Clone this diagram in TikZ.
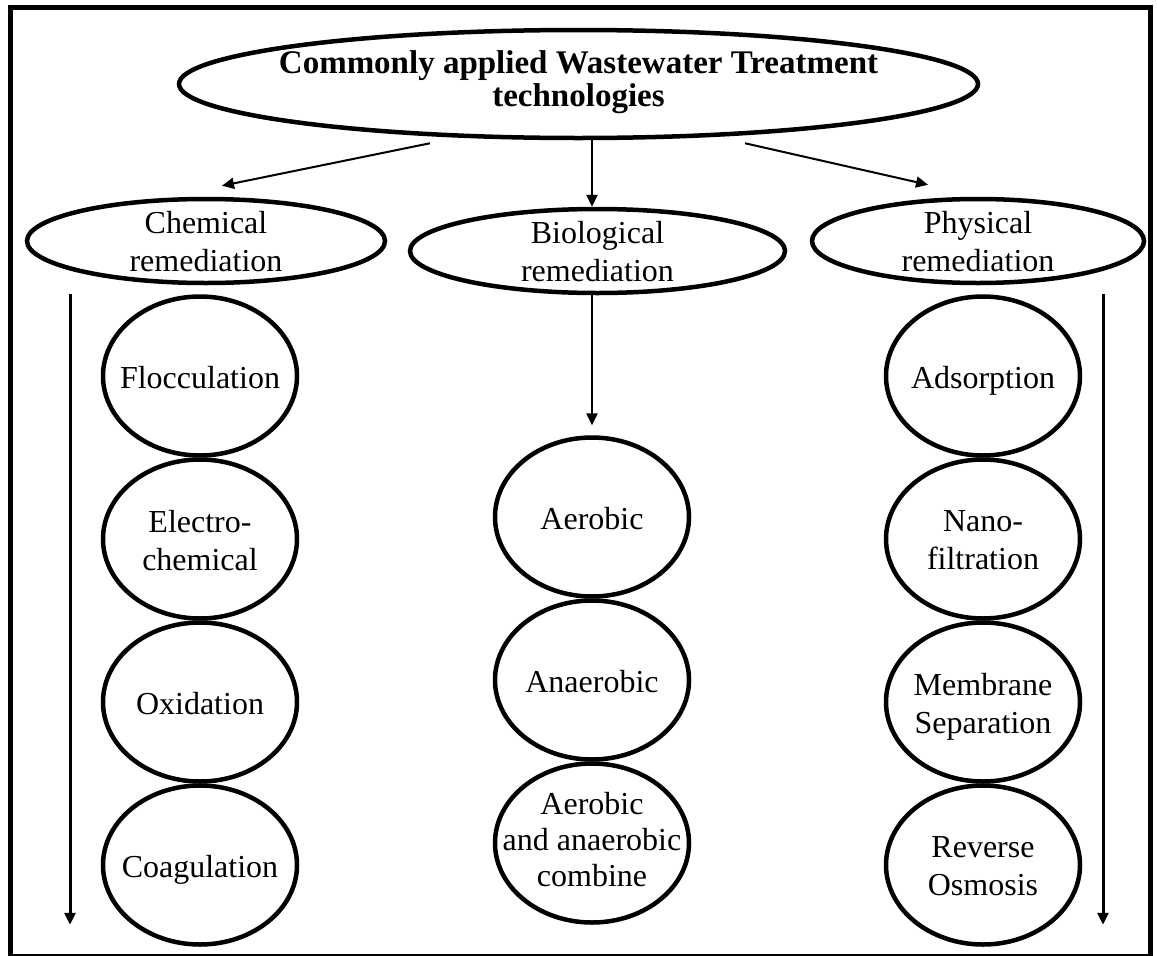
\documentclass[tikz,border=0pt]{standalone}
\usepackage{fontspec}
\setmainfont{Liberation Serif}
\usetikzlibrary{shapes.geometric,arrows.meta,calc}
\begin{document}
\begin{tikzpicture}[x=1pt,y=-1pt,
  oval/.style={draw=black,ellipse,line width=4.5pt,inner sep=0pt,fill=white},
  circ/.style={oval,minimum width=194pt,minimum height=159pt},
  txt/.style={inner sep=0pt,align=center,text depth=0pt,font=\fontsize{32}{38}\selectfont},
  ttl/.style={inner sep=0pt,align=center,text depth=0pt,font=\fontsize{33}{33}\selectfont\bfseries},
  arr/.style={line width=2pt,-{Triangle[width=11pt,length=12pt]}},
  varr/.style={line width=2.5pt,-{Triangle[width=11pt,length=12pt]}},
  sarr/.style={line width=3pt,-{Triangle[width=11pt,length=12pt]}}
]
\useasboundingbox (0,0) rectangle (1157,956);
% frame
\draw[line width=5pt,line cap=rect] (10.5,955) -- (10.5,7.5) -- (1150.5,7.5) -- (1150.5,955);
\draw[line width=2pt] (8,955) -- (1153,955);

% top
\node[oval,minimum width=799pt,minimum height=108pt] (main) at (578.5,84) {};
\node[ttl] (mainT) at (578.5,79) {Commonly applied Wastewater Treatment\\technologies};

% categories
\node[oval,minimum width=358pt,minimum height=84pt] (chem) at (206,241) {};
\node[txt] (chemT) at (chem) {Chemical\\remediation};
\node[oval,minimum width=375pt,minimum height=84pt] (bio) at (597.5,251) {};
\node[txt] (bioT) at (bio) {Biological\\remediation};
\node[oval,minimum width=332pt,minimum height=84pt] (phy) at (978,241) {};
\node[txt] (phyT) at (phy) {Physical\\remediation};

% chemical column
\node[circ] (floc) at (200,376) {};
\node[txt] (flocT) at ($(floc)+(0,1.5)$) {Flocculation};
\node[circ] (elec) at (200,539) {};
\node[txt] (elecT) at ($(elec)+(0,1)$) {Electro-\\chemical};
\node[circ] (oxid) at (200,702) {};
\node[txt] (oxidT) at ($(oxid)+(0,1.5)$) {Oxidation};
\node[circ] (coag) at (200,865) {};
\node[txt] (coagT) at ($(coag)+(0,1.5)$) {Coagulation};

% biological column
\node[circ] (aer) at (592,517) {};
\node[txt] (aerT) at ($(aer)+(0,1.5)$) {Aerobic};
\node[circ] (anaer) at (592,680) {};
\node[txt] (anaerT) at ($(anaer)+(0,1.5)$) {Anaerobic};
\node[circ] (comb) at (592,843) {};
\node[txt,font=\fontsize{32}{36}\selectfont] (combT) at ($(comb)+(0,-4)$) {Aerobic\\and anaerobic\\combine};

% physical column
\node[circ] (ads) at (983,376) {};
\node[txt] (adsT) at ($(ads)+(0,1.5)$) {Adsorption};
\node[circ] (nano) at (983,539) {};
\node[txt] (nanoT) at ($(nano)+(0,1)$) {Nano-\\filtration};
\node[circ] (memb) at (983,702) {};
\node[txt] (membT) at ($(memb)+(0,1)$) {Membrane\\Separation};
\node[circ] (rev) at (983,865) {};
\node[txt] (revT) at ($(rev)+(0,1)$) {Reverse\\Osmosis};

% connectors
\draw[arr] ($(main.south)+(-148.5,3)$) -- ($(chem.north)+(16,-11)$);
\draw[varr] ($(main.south)+(13.5,0)$) -- ($(bio.north)+(-5.5,0)$);
\draw[arr] ($(main.south)+(166.5,3)$) -- ($(phy.north)+(-50,-12)$);
\draw[varr] ($(bio.south)+(-5.5,0)$) -- ($(aer.north)+(0,-10)$);
\draw[sarr] ($(floc.north)+(-130,0)$) -- ($(coag.south)+(-130,-22)$);
\draw[sarr] ($(ads.north)+(120,0)$) -- ($(rev.south)+(120,-22)$);
\end{tikzpicture}
\end{document}
